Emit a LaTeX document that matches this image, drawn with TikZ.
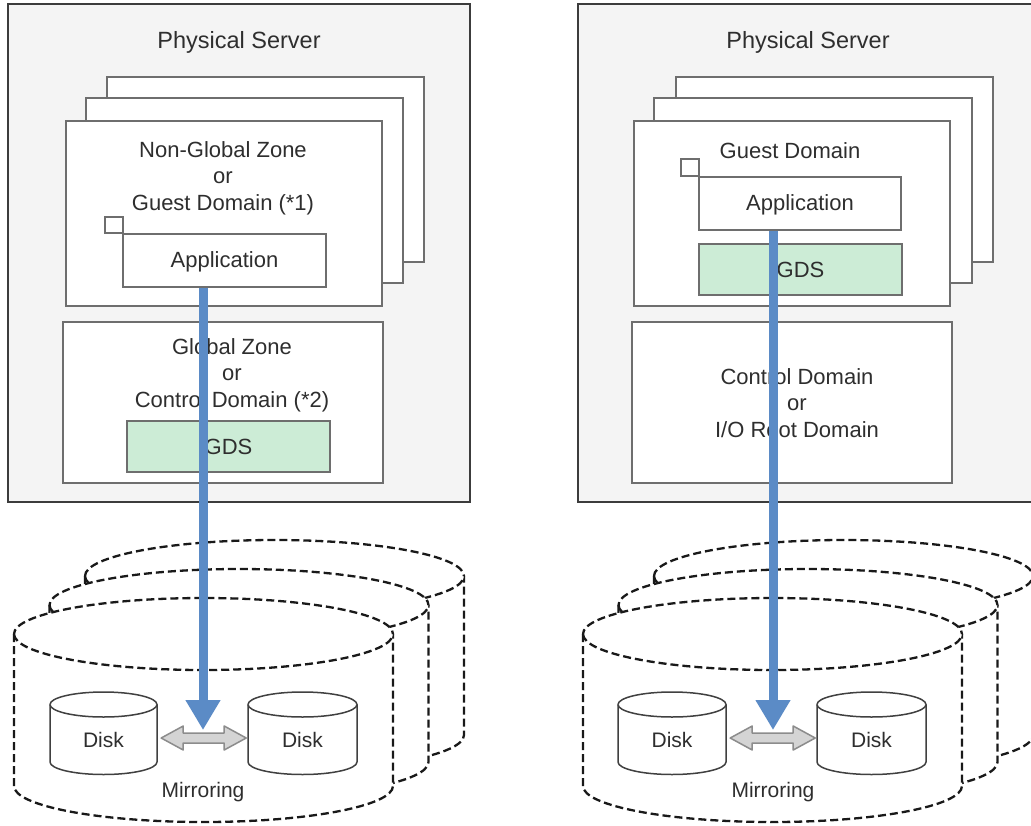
\documentclass[tikz,border=0pt]{standalone}
\usepackage{fontspec}
\setmainfont{Liberation Sans}
\usetikzlibrary{arrows.meta,fit}

\definecolor{srvfill}{HTML}{F4F4F4}
\definecolor{srvline}{HTML}{3C3C3C}
\definecolor{boxline}{HTML}{6E6E6E}
\definecolor{gdsfill}{HTML}{CCECD6}
\definecolor{ioblue}{HTML}{5B8BC6}
\definecolor{mirfill}{HTML}{D4D4D4}
\definecolor{mirline}{HTML}{8C8C8C}
\definecolor{txt}{HTML}{2E2E2E}

\tikzset{
  server/.style={draw=srvline, fill=srvfill, line width=2.5pt, inner sep=0pt},
  zone/.style={draw=boxline, fill=white, line width=1.5pt, inner sep=0pt},
  gds/.style={zone, fill=gdsfill},
  lbl/.style={text=txt, font=\fontsize{22}{26.5}\selectfont, align=center, inner sep=0pt},
  pool/.style={draw=black!90, dash pattern=on 8pt off 4pt, line width=2.3pt, fill=white},
  dsk/.style={draw=black!75, line width=1.5pt, fill=white},
  io/.style={draw=ioblue, line width=9pt, -{Triangle[width=33pt,length=30pt]}},
  mirrow/.style={draw=mirline, fill=mirfill, line width=1.5pt, line join=round},
}

\begin{document}
\begin{tikzpicture}[x=1pt,y=1pt]
	\useasboundingbox (0,0) rectangle (1031,-825);
	% physical servers
	\node[server, fit={(8,-4) (470,-502)}] (lsrv) {};
	\node[server, fit={(578,-4) (1040,-502)}] (rsrv) {};
	\node[lbl, font=\fontsize{23.5}{28}\selectfont] (lsrvtxt) at (239,-42) {Physical Server};
	\node[lbl, font=\fontsize{23.5}{28}\selectfont] (rsrvtxt) at (808,-42) {Physical Server};

	% guest stacks, left
	\node[zone, fit={(107,-77) (424,-262)}] (lback) {};
	\node[zone, fit={(86,-98) (403,-283)}] (lmid) {};
	\node[zone, fit={(66,-121) (382,-306)}] (lngz) {};
	\node[lbl] (lngztxt) at (223,-178) {Non-Global Zone\\or\\Guest Domain (*1)};
	\draw[zone] (105,-217) rectangle (123,-233);
	\node[zone, fit={(123,-234) (326,-287)}] (lapp) {};
	\node[lbl] (lapptxt) at ([yshift=-1pt]lapp.center) {Application};
	% global zone, left
	\node[zone, fit={(63,-322) (383,-483)}] (lgz) {};
	\node[lbl] (lgztxt) at (232,-375) {Global Zone\\or\\Control Domain (*2)};
	\node[gds, fit={(127,-421) (330,-472)}] (lgds) {};
	\node[lbl] (lgdstxt) at (lgds.center) {GDS};

	% guest stacks, right
	\node[zone, fit={(676,-77) (993,-262)}] (rback) {};
	\node[zone, fit={(654,-98) (972,-283)}] (rmid) {};
	\node[zone, fit={(634,-121) (950,-306)}] (rgd) {};
	\node[lbl] (rgdtxt) at (790,-151) {Guest Domain};
	\draw[zone] (681,-159) rectangle (699,-176);
	\node[zone, fit={(699,-177) (901,-230)}] (rapp) {};
	\node[lbl] (rapptxt) at ([yshift=-1pt]rapp.center) {Application};
	\node[gds, fit={(699,-244) (902,-295)}] (rgds) {};
	\node[lbl] (rgdstxt) at (rgds.center) {GDS};
	% control domain, right
	\node[zone, fit={(632,-322) (952,-483)}] (rcd) {};
	\node[lbl] (rcdtxt) at (797,-403) {Control Domain\\or\\I/O Root Domain};

	% disk pools, left
	\draw[pool] (85,-576) -- (85,-735) arc[start angle=180,end angle=360,x radius=189.5,y radius=36] -- (464,-576) arc[start angle=0,end angle=180,x radius=189.5,y radius=36] -- cycle;
	\draw[pool] (85,-576) arc[start angle=180,end angle=360,x radius=189.5,y radius=36];
	\draw[pool] (49.5,-605) -- (49.5,-762) arc[start angle=180,end angle=360,x radius=189.5,y radius=36] -- (428.5,-605) arc[start angle=0,end angle=180,x radius=189.5,y radius=36] -- cycle;
	\draw[pool] (49.5,-605) arc[start angle=180,end angle=360,x radius=189.5,y radius=36];
	\draw[pool] (14,-634) -- (14,-786) arc[start angle=180,end angle=360,x radius=189.5,y radius=36] -- (393,-634) arc[start angle=0,end angle=180,x radius=189.5,y radius=36] -- cycle;
	\draw[pool] (14,-634) arc[start angle=180,end angle=360,x radius=189.5,y radius=36];

	% disk pools, right
	\draw[pool] (654,-576) -- (654,-735) arc[start angle=180,end angle=360,x radius=189.5,y radius=36] -- (1033,-576) arc[start angle=0,end angle=180,x radius=189.5,y radius=36] -- cycle;
	\draw[pool] (654,-576) arc[start angle=180,end angle=360,x radius=189.5,y radius=36];
	\draw[pool] (618.5,-605) -- (618.5,-762) arc[start angle=180,end angle=360,x radius=189.5,y radius=36] -- (997.5,-605) arc[start angle=0,end angle=180,x radius=189.5,y radius=36] -- cycle;
	\draw[pool] (618.5,-605) arc[start angle=180,end angle=360,x radius=189.5,y radius=36];
	\draw[pool] (583,-634) -- (583,-786) arc[start angle=180,end angle=360,x radius=189.5,y radius=36] -- (962,-634) arc[start angle=0,end angle=180,x radius=189.5,y radius=36] -- cycle;
	\draw[pool] (583,-634) arc[start angle=180,end angle=360,x radius=189.5,y radius=36];

	% disks
	\draw[dsk] (50,-704.5) -- (50,-762) arc[start angle=180,end angle=360,x radius=53.5,y radius=12.5] -- (157,-704.5) arc[start angle=0,end angle=180,x radius=53.5,y radius=12.5] -- cycle;
	\draw[dsk] (50,-704.5) arc[start angle=180,end angle=360,x radius=53.5,y radius=12.5];
	\draw[dsk] (248,-704.5) -- (248,-762) arc[start angle=180,end angle=360,x radius=54.5,y radius=12.5] -- (357,-704.5) arc[start angle=0,end angle=180,x radius=54.5,y radius=12.5] -- cycle;
	\draw[dsk] (248,-704.5) arc[start angle=180,end angle=360,x radius=54.5,y radius=12.5];
	\draw[dsk] (618,-704.5) -- (618,-762) arc[start angle=180,end angle=360,x radius=54,y radius=12.5] -- (726,-704.5) arc[start angle=0,end angle=180,x radius=54,y radius=12.5] -- cycle;
	\draw[dsk] (618,-704.5) arc[start angle=180,end angle=360,x radius=54,y radius=12.5];
	\draw[dsk] (817,-704.5) -- (817,-762) arc[start angle=180,end angle=360,x radius=54.5,y radius=12.5] -- (926,-704.5) arc[start angle=0,end angle=180,x radius=54.5,y radius=12.5] -- cycle;
	\draw[dsk] (817,-704.5) arc[start angle=180,end angle=360,x radius=54.5,y radius=12.5];
	\node[lbl, font=\fontsize{21}{25}\selectfont, minimum width=107pt] (ldA) at (103.5,-740) {Disk};
	\node[lbl, font=\fontsize{21}{25}\selectfont, minimum width=109pt] (ldB) at (302.5,-740) {Disk};
	\node[lbl, font=\fontsize{21}{25}\selectfont, minimum width=108pt] (rdA) at (672,-740) {Disk};
	\node[lbl, font=\fontsize{21}{25}\selectfont, minimum width=109pt] (rdB) at (871.5,-740) {Disk};
	\node[lbl, font=\fontsize{21}{25}\selectfont] (lmir) at (203,-792) {Mirroring};
	\node[lbl, font=\fontsize{21}{25}\selectfont] (rmir) at (773,-792) {Mirroring};

	% mirroring arrows
	\draw[mirrow] ([xshift=4pt,yshift=2pt]ldA.east) -- ++(22,12) -- ++(0,-7) -- ++(41,0) -- ++(0,7) -- ++(22,-12) -- ++(-22,-12) -- ++(0,7) -- ++(-41,0) -- ++(0,-7) -- cycle;
	\draw[mirrow] ([xshift=4pt,yshift=2pt]rdA.east) -- ++(22,12) -- ++(0,-7) -- ++(41,0) -- ++(0,7) -- ++(22,-12) -- ++(-22,-12) -- ++(0,7) -- ++(-41,0) -- ++(0,-7) -- cycle;

	% I/O paths
	\coordinate (ltip) at (203,-730);
	\coordinate (rtip) at (773,-730);
	\draw[io] (lapp.south -| ltip) -- (ltip);
	\draw[io] (rapp.south -| rtip) -- (rtip);
\end{tikzpicture}
\end{document}
